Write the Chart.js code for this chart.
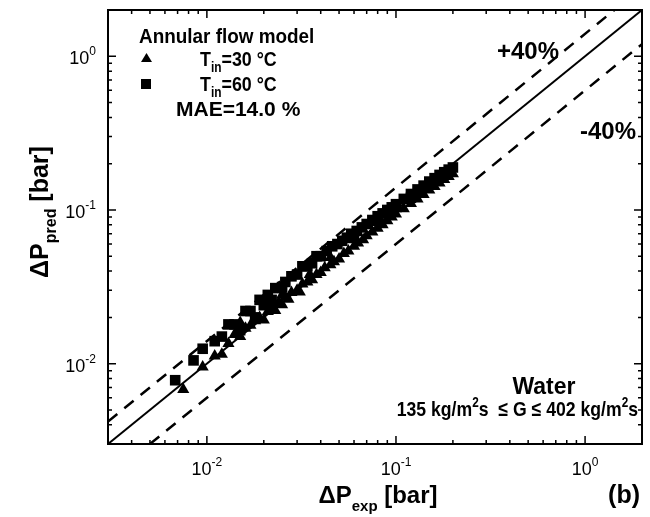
<!DOCTYPE html>
<html>
<head>
<meta charset="utf-8">
<script src="https://cdn.jsdelivr.net/npm/chart.js@4.4.0/dist/chart.umd.min.js"></script>
<style>
  html, body { margin: 0; padding: 0; background: #fff; }
  #wrap { width: 650px; height: 517px; position: relative; }
</style>
</head>
<body>
<div id="wrap"><canvas id="parityChart"></canvas></div>
<script>
// 측정값 vs 예측값 (bar)
const axisMin = 0.003;
const axisMax = 2;
const decadeTicks = [0.01, 0.1, 1];
const decadeLabels = ["-2", "-1", "0"];

// T_in = 30 °C (triangles)
const tri30Exp  = [0.0075, 0.0095, 0.011, 0.012, 0.013, 0.014, 0.015, 0.015, 0.016, 0.017, 0.018, 0.019, 0.020, 0.021, 0.022, 0.023, 0.024, 0.025, 0.025, 0.026, 0.027, 0.028, 0.030, 0.031, 0.032, 0.034, 0.035, 0.036, 0.038, 0.040, 0.042, 0.045, 0.045, 0.047, 0.050, 0.053, 0.056, 0.060, 0.060, 0.063, 0.067, 0.070, 0.075, 0.080, 0.080, 0.085, 0.090, 0.095, 0.100, 0.100, 0.110, 0.120, 0.130, 0.130, 0.140, 0.150, 0.160, 0.170, 0.180, 0.190, 0.200];
const tri30Pred = [0.0068, 0.0095, 0.0112, 0.0115, 0.0135, 0.0155, 0.0150, 0.0185, 0.0170, 0.0178, 0.0190, 0.0200, 0.0192, 0.0218, 0.0232, 0.0222, 0.0250, 0.0242, 0.0280, 0.0272, 0.0262, 0.0290, 0.0300, 0.0292, 0.0330, 0.0340, 0.0380, 0.0352, 0.0380, 0.0392, 0.0420, 0.0440, 0.0490, 0.0460, 0.0480, 0.0520, 0.0540, 0.0580, 0.0640, 0.0610, 0.0640, 0.0680, 0.0720, 0.0760, 0.0830, 0.0800, 0.0850, 0.0900, 0.0940, 0.1020, 0.1020, 0.1100, 0.1180, 0.1280, 0.1260, 0.1350, 0.1420, 0.1500, 0.1580, 0.1650, 0.1720];

// T_in = 60 °C (squares)
const sq60Exp  = [0.0068, 0.0085, 0.0095, 0.011, 0.012, 0.013, 0.014, 0.015, 0.016, 0.017, 0.018, 0.019, 0.020, 0.021, 0.022, 0.023, 0.025, 0.026, 0.028, 0.030, 0.032, 0.034, 0.036, 0.038, 0.040, 0.043, 0.046, 0.049, 0.052, 0.055, 0.058, 0.060, 0.062, 0.066, 0.070, 0.075, 0.080, 0.085, 0.090, 0.090, 0.095, 0.100, 0.110, 0.120, 0.120, 0.130, 0.140, 0.150, 0.150, 0.160, 0.170, 0.180, 0.190, 0.200];
const sq60Pred = [0.0078, 0.0105, 0.0125, 0.0140, 0.0150, 0.0180, 0.0180, 0.0165, 0.0220, 0.0220, 0.0200, 0.0260, 0.0240, 0.0280, 0.0260, 0.0310, 0.0315, 0.0340, 0.0370, 0.0380, 0.0430, 0.0430, 0.0450, 0.0500, 0.0500, 0.0540, 0.0580, 0.0600, 0.0630, 0.0660, 0.0700, 0.0660, 0.0730, 0.0770, 0.0810, 0.0860, 0.0910, 0.0950, 0.1000, 0.0950, 0.1040, 0.1090, 0.1180, 0.1270, 0.1200, 0.1360, 0.1440, 0.1530, 0.1480, 0.1610, 0.1690, 0.1760, 0.1830, 0.1890];

// 기준선: 1:1, +40 %, -40 %
const parityFactor = [1, 1.4, 0.6];

const toPoints = (xs, ys) => xs.map((x, i) => ({ x: x, y: ys[i] }));
const refLine = f => {
  // 축 범위 안에서 y = f·x
  const x0 = Math.max(axisMin, axisMin / f);
  const x1 = Math.min(axisMax, axisMax / f);
  return [{ x: x0, y: x0 * f }, { x: x1, y: x1 * f }];
};

const FONT = "'Liberation Sans', Arial, sans-serif";

// 첨자 텍스트 그리기 (sx: 가로 압축)
function drawRich(ctx, parts, x, y, align, sx) {
  sx = sx || 1;
  let total = 0;
  parts.forEach(p => {
    ctx.font = p.font;
    total += ctx.measureText(p.t).width;
  });
  total *= sx;
  let cx = x;
  if (align === "center") cx = x - total / 2;
  if (align === "right") cx = x - total;
  ctx.save();
  ctx.translate(cx, y);
  ctx.scale(sx, 1);
  ctx.textAlign = "left";
  ctx.textBaseline = "alphabetic";
  let ox = 0;
  parts.forEach(p => {
    ctx.font = p.font;
    ctx.fillText(p.t, ox, p.dy || 0);
    ox += ctx.measureText(p.t).width;
  });
  ctx.restore();
}

const framePlugin = {
  id: "frame",
  afterDraw(chart) {
    const ctx = chart.ctx;
    const a = chart.chartArea;
    const xs = chart.scales.x;
    const ys = chart.scales.y;
    ctx.save();
    ctx.fillStyle = "#000";
    ctx.strokeStyle = "#000";

    // 틱 (안쪽, 네 변)
    ctx.lineWidth = 1.5;
    for (let e = -3; e <= 0; e++) {
      for (let m = 1; m <= 9; m++) {
        const v = m * Math.pow(10, e);
        if (v < axisMin || v > axisMax) continue;
        const len = m === 1 ? 8 : 4;
        const px = xs.getPixelForValue(v);
        const py = ys.getPixelForValue(v);
        ctx.beginPath();
        ctx.moveTo(px, a.bottom); ctx.lineTo(px, a.bottom - len);
        ctx.moveTo(px, a.top); ctx.lineTo(px, a.top + len);
        ctx.moveTo(a.left, py); ctx.lineTo(a.left + len, py);
        ctx.moveTo(a.right, py); ctx.lineTo(a.right - len, py);
        ctx.stroke();
      }
    }
    ctx.lineWidth = 2;
    ctx.strokeRect(a.left, a.top, a.right - a.left, a.bottom - a.top);

    // 틱 라벨
    decadeTicks.forEach((v, i) => {
      const px = xs.getPixelForValue(v);
      drawRich(ctx, [
        { t: "10", font: "18px " + FONT },
        { t: decadeLabels[i], font: "12px " + FONT, dy: -9 }
      ], px, a.bottom + 31, "center");
      const py = ys.getPixelForValue(v);
      drawRich(ctx, [
        { t: "10", font: "18px " + FONT },
        { t: decadeLabels[i], font: "12px " + FONT, dy: -9 }
      ], a.left - 12, py + 8, "right");
    });

    // 축 제목
    drawRich(ctx, [
      { t: "\u0394P", font: "bold 24px " + FONT },
      { t: "exp", font: "bold 15px " + FONT, dy: 8 },
      { t: " [bar]", font: "bold 24px " + FONT }
    ], 378, 503, "center");
    ctx.save();
    ctx.translate(48, 212);
    ctx.rotate(-Math.PI / 2);
    drawRich(ctx, [
      { t: "\u0394P", font: "bold 25px " + FONT },
      { t: "pred", font: "bold 16px " + FONT, dy: 8 },
      { t: " [bar]", font: "bold 25px " + FONT }
    ], 0, 0, "center");
    ctx.restore();

    // 범례 및 주석
    const B = "bold 21px " + FONT;
    const S = "bold 14px " + FONT;
    drawRich(ctx, [{ t: "Annular flow model", font: B }], 139, 43, "left", 0.9);
    ctx.beginPath();
    ctx.moveTo(141, 62); ctx.lineTo(146.5, 53); ctx.lineTo(152, 62); ctx.closePath(); ctx.fill();
    ctx.fillRect(141, 79, 10, 10);
    drawRich(ctx, [{ t: "T", font: B }, { t: "in", font: S, dy: 6 }, { t: "=30 \u00B0C", font: B }], 200, 66, "left", 0.85);
    drawRich(ctx, [{ t: "T", font: B }, { t: "in", font: S, dy: 6 }, { t: "=60 \u00B0C", font: B }], 200, 91, "left", 0.85);
    drawRich(ctx, [{ t: "MAE=14.0 %", font: B }], 176, 116, "left");
    drawRich(ctx, [{ t: "+40%", font: "bold 24px " + FONT }], 497, 59, "left");
    drawRich(ctx, [{ t: "-40%", font: "bold 24px " + FONT }], 580, 139, "left");
    drawRich(ctx, [{ t: "Water", font: "bold 23px " + FONT }], 544, 394, "center");
    drawRich(ctx, [
      { t: "135 kg/m", font: B }, { t: "2", font: S, dy: -9 }, { t: "s  \u2264 G \u2264 402 kg/m", font: B },
      { t: "2", font: S, dy: -9 }, { t: "s", font: B }
    ], 638, 416, "right", 0.84);
    drawRich(ctx, [{ t: "(b)", font: "bold 25px " + FONT }], 640, 503, "right");
    ctx.restore();
  }
};

const ctxP = document.getElementById("parityChart");
new Chart(ctxP, {
  type: "scatter",
  data: {
    datasets: [
      {
        label: "T_in=30 °C",
        data: toPoints(tri30Exp, tri30Pred),
        pointStyle: "triangle",
        pointRadius: 7,
        backgroundColor: "#000",
        borderColor: "#000",
        borderWidth: 0
      },
      {
        label: "T_in=60 °C",
        data: toPoints(sq60Exp, sq60Pred),
        pointStyle: "rect",
        pointRadius: 7.5,
        backgroundColor: "#000",
        borderColor: "#000",
        borderWidth: 0
      },
      {
        type: "line",
        label: "1:1",
        data: refLine(parityFactor[0]),
        borderColor: "#000",
        borderWidth: 2,
        pointRadius: 0,
        fill: false
      },
      {
        type: "line",
        label: "+40%",
        data: refLine(parityFactor[1]),
        borderColor: "#000",
        borderWidth: 2.5,
        borderDash: [12, 9],
        pointRadius: 0,
        fill: false
      },
      {
        type: "line",
        label: "-40%",
        data: refLine(parityFactor[2]),
        borderColor: "#000",
        borderWidth: 2.5,
        borderDash: [12, 9],
        pointRadius: 0,
        fill: false
      }
    ]
  },
  options: {
    responsive: true,
    maintainAspectRatio: false,
    animation: false,
    layout: { padding: { left: 108, right: 8, top: 10, bottom: 73 } },
    scales: {
      x: { type: "logarithmic", min: axisMin, max: axisMax, display: false },
      y: { type: "logarithmic", min: axisMin, max: axisMax, display: false }
    },
    plugins: {
      legend: { display: false },
      tooltip: { enabled: false }
    }
  },
  plugins: [framePlugin]
});
</script>
</body>
</html>
